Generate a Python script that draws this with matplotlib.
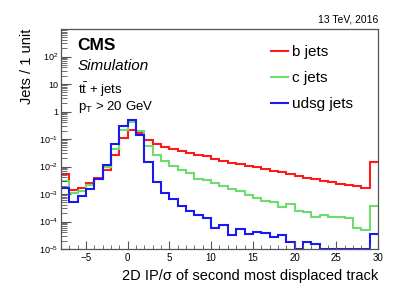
import numpy as np
import matplotlib
matplotlib.use("Agg")
import matplotlib.pyplot as plt
from matplotlib.ticker import FixedLocator, FuncFormatter, LogLocator, MultipleLocator

plt.rcParams['font.family'] = ['Liberation Sans', 'DejaVu Sans']
plt.rcParams['mathtext.fontset'] = 'custom'
plt.rcParams['mathtext.rm'] = 'Liberation Sans'
plt.rcParams['mathtext.it'] = 'Liberation Sans:italic'
plt.rcParams['mathtext.bf'] = 'Liberation Sans:bold'

# ---- data ----
bin_edges = list(range(-8, 31))  # 1-unit bins from -8 to 30

b_jets = [5.4e-3, 1.4e-3, 1.7e-3, 2.45e-3, 3.9e-3, 7.4e-3, 2.6e-2, 0.105, 0.22, 0.17,
          0.094, 0.065, 0.052, 0.043, 0.037, 0.032, 0.027, 0.024, 0.019, 0.016,
          0.0138, 0.012, 0.0105, 0.0092, 0.0079, 0.0071, 0.0065, 0.0053, 0.0045, 0.0038,
          0.0034, 0.0030, 0.0027, 0.0023, 0.0021, 0.00195, 0.0016, 0.014]

c_jets = [3.0e-3, 1.07e-3, 1.3e-3, 2.2e-3, 3.6e-3, 9.7e-3, 4.5e-2, 0.21, 0.42, 0.20,
          0.058, 0.027, 0.016, 0.0105, 0.0077, 0.0058, 0.0035, 0.0031, 0.0026, 0.00195,
          0.0015, 0.0013, 9.5e-4, 7.0e-4, 5.8e-4, 5.2e-4, 3.4e-4, 4.4e-4, 2.5e-4, 2.3e-4,
          1.4e-4, 1.7e-4, 1.5e-4, 1.4e-4, 1.3e-4, 5.6e-5, 4.9e-5, 3.6e-4]

udsg_jets = [1.6e-3, 5.0e-4, 8.5e-4, 1.5e-3, 3.4e-3, 1.1e-2, 6.4e-2, 0.30, 0.50, 0.14,
             0.014, 2.8e-3, 1.1e-3, 6.7e-4, 3.6e-4, 2.4e-4, 1.7e-4, 1.3e-4, 6.0e-5, 7.4e-5,
             3.2e-5, 5.3e-5, 3.5e-5, 4.3e-5, 3.7e-5, 2.8e-5, 3.2e-5, 1.75e-5, 0.0, 1.75e-5,
             1.5e-5, 0.0, 0.0, 0.0, 0.0, 0.0, 0.0, 3.5e-5]

series_labels = ['b jets', 'c jets', 'udsg jets']
series_colors = ['#ff1a1a', '#6edc6e', '#1a1aee']

x_ticks = [-5, 0, 5, 10, 15, 20, 25, 30]
y_ticks = [1e-5, 1e-4, 1e-3, 1e-2, 1e-1, 1, 10, 100]

ymin, ymax = 1e-5, 1e3

# ---- figure ----
fig = plt.figure(figsize=(4.07, 2.93), dpi=100)
ax = fig.add_axes([61/407, 1 - 249/293, (378 - 61)/407, (249 - 29)/293])

edges = np.array(bin_edges, dtype=float)
for vals, lab, col in zip([b_jets, c_jets, udsg_jets], series_labels, series_colors):
    v = np.maximum(np.array(vals, dtype=float), ymin * 1.04)
    ax.stairs(v, edges, baseline=None, color=col, lw=1.5, label=lab, clip_on=False)

ax.set_yscale('log')
ax.set_xlim(-8, 30)
ax.set_ylim(ymin, ymax)

def yfmt(v, pos):
    e = int(round(np.log10(v)))
    if e == 0:
        return '1'
    if e == 1:
        return '10'
    return r'$10^{%d}$' % e

ax.yaxis.set_major_locator(FixedLocator(y_ticks))
ax.yaxis.set_major_formatter(FuncFormatter(yfmt))
ax.yaxis.set_minor_locator(LogLocator(base=10, subs=np.arange(2, 10), numticks=20))
ax.xaxis.set_major_locator(FixedLocator(x_ticks))
ax.xaxis.set_minor_locator(MultipleLocator(1))
ax.set_xticklabels(['\u22125'] + [str(t) for t in x_ticks[1:]])

for sp in ax.spines.values():
    sp.set_color('#555555')
    sp.set_linewidth(0.9)

ax.tick_params(axis='y', which='major', direction='in', length=7, width=0.8,
               color='#555555', labelsize=6.5, pad=2, right=False)
ax.tick_params(axis='y', which='minor', direction='in', length=4, width=0.6,
               color='#555555', right=False)
ax.tick_params(axis='x', which='major', direction='in', length=6, width=0.8,
               color='#555555', labelsize=7, pad=3, top=False)
ax.tick_params(axis='x', which='minor', direction='in', length=3, width=0.6,
               color='#555555', top=False)

ax.set_xlabel('2D IP/\u03c3 of second most displaced track', fontsize=10.5,
              ha='right', x=1.0, labelpad=4)
ax.set_ylabel('Jets / 1 unit', fontsize=10.5, ha='right')
ax.yaxis.set_label_coords((34 - 61) / 317, 1.0)

# texts
fig.text(378/407, 1 - 22.7/293, '13 TeV, 2016', ha='right', va='baseline', fontsize=7.5)
fig.text(77.5/407, 1 - 50/293, 'CMS', ha='left', va='baseline', fontsize=12.5,
         fontweight='bold')
fig.text(77.5/407, 1 - 70.5/293, 'Simulation', ha='left', va='baseline', fontsize=11,
         style='italic')
fig.text(77.5/407, 1 - 94/293, r'$\mathrm{t\bar{t}}$ + jets', ha='left', va='baseline',
         fontsize=9.5)
fig.text(77.5/407, 1 - 110/293, r'p$_{\mathrm{T}}$ > 20 GeV', ha='left', va='baseline',
         fontsize=9.5)

leg = ax.legend(loc='upper left', bbox_to_anchor=(271/407, 1 - 45/293),
                bbox_transform=fig.transFigure, frameon=False, fontsize=11,
                handlelength=1.1, handletextpad=0.25, labelspacing=0.8,
                borderpad=0, borderaxespad=0)

fig.savefig('out.png', dpi=100)
